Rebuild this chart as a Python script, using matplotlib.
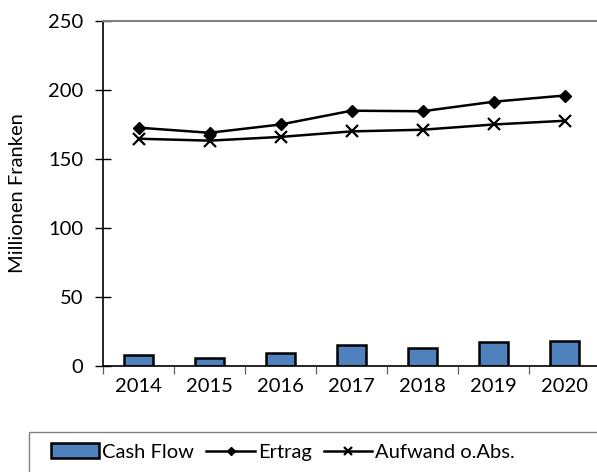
import matplotlib
matplotlib.use("Agg")
import matplotlib.pyplot as plt
from matplotlib.patches import Rectangle
from matplotlib.ticker import FixedLocator

plt.rcParams['font.family'] = ['Lato', 'DejaVu Sans']

years = ['2014', '2015', '2016', '2017', '2018', '2019', '2020']
cash_flow = [8.2, 5.8, 9.2, 15.2, 13.0, 17.1, 18.0]
ertrag = [172.7, 169.0, 175.0, 185.0, 184.6, 191.5, 196.0]
aufwand = [164.7, 163.3, 166.0, 170.0, 171.2, 175.0, 177.7]
y_ticks = [0, 50, 100, 150, 200, 250]

W, H = 597, 472
FS = 14.5
fig = plt.figure(figsize=(W / 100, H / 100), dpi=100)
ax = fig.add_axes([103 / W, 1 - 366 / H, (600 - 103) / W, (366 - 21) / H])

x = list(range(len(years)))
ax.bar(x, cash_flow, width=0.41, color='#4F81BD', edgecolor='black', linewidth=1.8,
       label='Cash Flow', zorder=2)
ax.plot(x, ertrag, color='black', lw=1.8, marker='D', markersize=6.5, label='Ertrag', zorder=3)
ax.plot(x, aufwand, color='black', lw=1.8, marker='x', markersize=8, mew=1.6,
        label='Aufwand o.Abs.', zorder=3)

ax.set_xlim(-0.5, len(years) - 0.5)
ax.set_ylim(0, 250)
ax.set_yticks(y_ticks)
ax.set_xticks(x)
ax.set_xticklabels(years)
ax.xaxis.set_minor_locator(FixedLocator([i - 0.5 for i in range(len(years) + 1)]))
ax.tick_params(axis='x', which='major', length=0, pad=9, labelsize=FS)
ax.tick_params(axis='x', which='minor', length=6, width=0.9, color='#606060', direction='out')
ax.tick_params(axis='y', which='major', length=12, width=1, direction='inout', pad=8, labelsize=FS)
ax.set_ylabel('Millionen Franken', fontsize=FS, labelpad=16)

for s in ('left', 'bottom'):
    ax.spines[s].set_linewidth(1.2)
    ax.spines[s].set_color('black')
ax.spines['top'].set_color('#808080')
ax.spines['top'].set_linewidth(1.5)
ax.spines['right'].set_visible(False)

# legend box
fig.patches.append(Rectangle((29 / W, -0.05), 1.0, 1 - 432 / H + 0.05,
                             transform=fig.transFigure, fill=False,
                             edgecolor='#808080', lw=1.0))
handles, labels = ax.get_legend_handles_labels()
handles = [handles[2], handles[0], handles[1]]
labels = [labels[2], labels[0], labels[1]]
leg = fig.legend(handles, labels, loc='center left', bbox_to_anchor=(43 / W, 1 - 452 / H),
                 ncol=3, frameon=False, fontsize=FS, handlelength=2.4, handletextpad=0.15,
                 columnspacing=0.6, borderaxespad=0, markerscale=0.7)

fig.savefig('out.png', dpi=100)
